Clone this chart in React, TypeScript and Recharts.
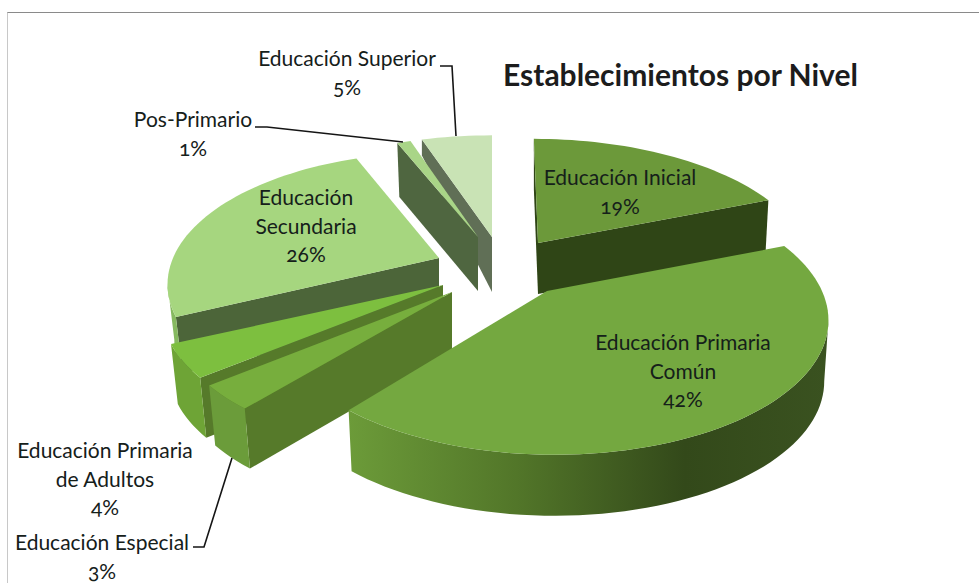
import { Pie, PieChart } from "recharts";

// drawn order runs counter-clockwise from Inicial so that the front slices paint last
const categories = [
  "Educación Inicial",
  "Educación Superior",
  "Pos-Primario",
  "Educación Secundaria",
  "Educación Primaria de Adultos",
  "Educación Especial",
  "Educación Primaria Común",
];
const shares = [19, 5, 1, 26, 4, 3, 42];

const data = categories.map((name, i) => ({ name, value: shares[i] }));

// apex, radii and extrusion of each exploded slice, on the page
const sliceGeometry: Record<string, any> = {
  "Educación Inicial": { ax: 538, ay: 243, rx: 268, ry: 125, skew: 0.04, depth: 51, taper: 0.012, top: "#6c993a", cut: "#2f4516", rim: "#2f4516" },
  "Educación Superior": { ax: 492, ay: 237, rx: 270, ry: 122, skew: 0, depth: 55, cornerDepth: 16, taper: 0, top: "#c9e3b5", cut: "#606f56", rim: "#606f56" },
  "Pos-Primario": { ax: 478, ay: 237, rx: 260, ry: 120, skew: 0, depth: 54, taper: 0.025, top: "#a9d587", cut: "#4f6640", rim: "#4f6640" },
  "Educación Secundaria": { ax: 439, ay: 258, rx: 266, ry: 127, skew: 0, depth: 56, taper: 0.025, top: "#a6d67f", cut: "#4c6539", rim: "#86b960" },
  "Educación Primaria de Adultos": { ax: 443, ay: 285, rx: 275, ry: 127, skew: 0, depth: 60, taper: 0.025, top: "#7dbf3f", cut: "#567a2a", rim: "#6ea436" },
  "Educación Especial": { ax: 452, ay: 292, rx: 275, ry: 128, skew: 0, depth: 60, taper: 0.025, top: "#77ae3d", cut: "#567a2a", rim: "#6b9c3a" },
  "Educación Primaria Común": { ax: 550, ay: 291, apexDx: -3, rx: 272, ry: 131, skew: 0.03, depth: 61, taper: 0.015, top: "#74a840", cut: "#2f4516", rim: "url(#rim-primaria)" },
};
const PERSPECTIVE = 0.2;

const labelLayout: Record<string, { x: number; y: number; lines: string[]; leader?: string }> = {
  "Educación Inicial": { x: 620, y: 185, lines: ["Educación Inicial"] },
  "Educación Superior": { x: 347, y: 66, lines: ["Educación Superior"], leader: "440,66 452,66 456,136" },
  "Pos-Primario": { x: 193, y: 127, lines: ["Pos-Primario"], leader: "255,127 267,127 403,142" },
  "Educación Secundaria": { x: 306, y: 205, lines: ["Educación", "Secundaria"] },
  "Educación Primaria de Adultos": { x: 105, y: 458, lines: ["Educación Primaria", "de Adultos"] },
  "Educación Especial": { x: 102, y: 550, lines: ["Educación Especial"], leader: "193,547 204,547 232,458" },
  "Educación Primaria Común": { x: 683, y: 350, lines: ["Educación Primaria", "Común"] },
};

const poly = (pts: number[][]) => pts.map((p) => p.join(",")).join(" ");

function Slice3D(props: any) {
  const g = sliceGeometry[props.name];
  const t1 = 90 - props.endAngle;
  const t2 = 90 - props.startAngle;
  const at = (deg: number) => {
    const rad = (deg * Math.PI) / 180;
    const w = 1 + PERSPECTIVE * Math.cos(rad);
    const dy = (-g.ry * Math.cos(rad)) / w;
    return [g.ax + (g.rx * Math.sin(rad)) / w + g.skew * dy, g.ay + dy];
  };
  const arc: number[][] = [];
  const steps = Math.max(2, Math.ceil((t2 - t1) / 2));
  for (let i = 0; i <= steps; i++) arc.push(at(t1 + ((t2 - t1) * i) / steps));

  const apex = [g.ax + (g.apexDx ?? 0), g.ay];
  // the underside narrows a little towards the apex
  const down = (p: number[], d = g.depth) => [p[0] - g.taper * (p[0] - apex[0]), p[1] + d];
  const first = arc[0];
  const last = arc[arc.length - 1];

  // only the faces turned to the viewer: on a clockwise outline those run right to left
  const rim: number[][] = [];
  arc.forEach((p, i) => {
    const prev = arc[i - 1];
    const next = arc[i + 1];
    if ((next && next[0] < p[0]) || (prev && p[0] < prev[0])) rim.push(p);
  });

  return (
    <g>
      {first[0] < apex[0] && (
        <polygon points={poly([apex, first, down(first, g.cornerDepth ?? g.depth), down(apex)])} fill={g.cut} />
      )}
      {apex[0] < last[0] && (
        <polygon points={poly([last, apex, down(apex), down(last)])} fill={g.cut} />
      )}
      {rim.length > 1 && (
        <polygon points={poly([...rim, ...rim.map((p) => down(p)).reverse()])} fill={g.rim} />
      )}
      <polygon points={poly([apex, ...arc])} fill={g.top} />
    </g>
  );
}

function SliceLabel(props: any) {
  const l = labelLayout[props.name];
  const rows = [...l.lines, `${props.value}%`];
  return (
    <g>
      {l.leader && <polyline points={l.leader} fill="none" stroke="#151515" strokeWidth={1.6} />}
      {rows.map((row, i) => (
        <text
          key={row}
          x={l.x}
          y={l.y + i * 28.5}
          textAnchor="middle"
          fontFamily="Lato"
          fontSize={21}
          fill="#15201a"
          style={{ fontFeatureSettings: '"onum"' }}
        >
          {row}
        </text>
      ))}
    </g>
  );
}

export default function App() {
  return (
    <div style={{ position: "absolute", left: 0, top: 0, width: 979, height: 583, background: "#fff", overflow: "hidden" }}>
      <div style={{ position: "absolute", left: 7, top: 12, width: 972, height: 571, borderTop: "1px solid #8a8a8a", borderLeft: "1px solid #c8c8c8" }} />
      <PieChart width={979} height={583} margin={{ top: 0, right: 0, bottom: 0, left: 0 }} style={{ position: "absolute", left: 0, top: 0 }}>
        <defs>
          <linearGradient id="rim-primaria" x1="0" y1="0" x2="1" y2="0">
            <stop offset="0%" stopColor="#6c9b39" />
            <stop offset="35%" stopColor="#527629" />
            <stop offset="70%" stopColor="#33491a" />
            <stop offset="100%" stopColor="#3a5220" />
          </linearGradient>
        </defs>
        <Pie
          data={data}
          dataKey="value"
          nameKey="name"
          cx={537}
          cy={290}
          outerRadius={120}
          startAngle={21.6}
          endAngle={381.6}
          stroke="none"
          isAnimationActive={false}
          shape={Slice3D}
          label={SliceLabel}
          labelLine={false}
        />
        <text x={503} y={86} fontFamily="Lato" fontWeight={700} fontSize={30} fill="#1c1c1c">
          Establecimientos por Nivel
        </text>
      </PieChart>
    </div>
  );
}
